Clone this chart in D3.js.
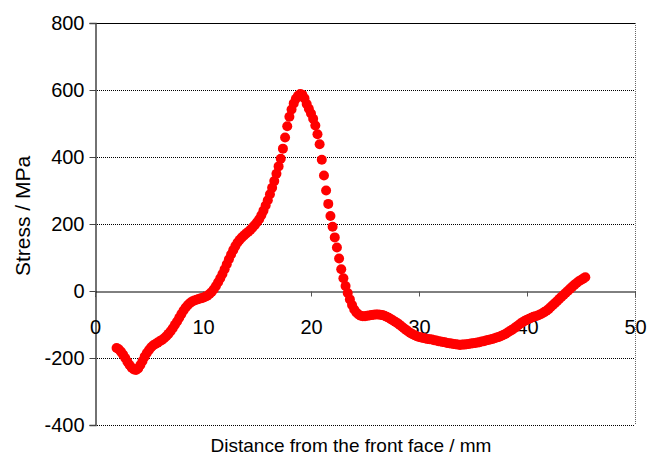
<!DOCTYPE html>
<html>
<head>
	<title>Stress profile</title>
	<script src="https://d3js.org/d3.v7.min.js" charset="utf-8"></script>
	<style>
		body { margin: 0; background: #fff; }
		text { font-family: "Liberation Sans", Arial, sans-serif; }
	</style>
</head>
<body>
	<svg width="648" height="456"></svg>
	<script>
		// distance from the front face (mm) and measured stress (MPa)
		const distance = [
			2.0, 2.2, 2.4, 2.6, 2.8, 3.0, 3.2, 3.4, 3.6, 3.8, 4.0, 4.2, 4.4, 4.6, 4.8, 5.0, 5.2, 5.4, 5.6, 5.8,
			6.0, 6.2, 6.4, 6.6, 6.8, 7.0, 7.2, 7.4, 7.6, 7.8, 8.0, 8.2, 8.4, 8.6, 8.8, 9.0, 9.2, 9.4, 9.6, 9.8,
			10.0, 10.2, 10.4, 10.6, 10.8, 11.0, 11.2, 11.4, 11.6, 11.8, 12.0, 12.2, 12.4, 12.6, 12.8, 13.0, 13.2, 13.4, 13.6, 13.8,
			14.0, 14.2, 14.4, 14.6, 14.8, 15.0, 15.2, 15.4, 15.6, 15.8, 16.0, 16.2, 16.4, 16.6, 16.8, 17.0, 17.2, 17.4, 17.6, 17.8,
			18.0, 18.2, 18.4, 18.6, 18.8, 19.0, 19.2, 19.4, 19.6, 19.8, 20.0, 20.2, 20.4, 20.6, 20.8, 21.0, 21.2, 21.4, 21.6, 21.8,
			22.0, 22.2, 22.4, 22.6, 22.8, 23.0, 23.2, 23.4, 23.6, 23.8, 24.0, 24.2, 24.4, 24.6, 24.8, 25.0, 25.2, 25.4, 25.6, 25.8,
			26.0, 26.2, 26.4, 26.6, 26.8, 27.0, 27.2, 27.4, 27.6, 27.8, 28.0, 28.2, 28.4, 28.6, 28.8, 29.0, 29.2, 29.4, 29.6, 29.8,
			30.0, 30.2, 30.4, 30.6, 30.8, 31.0, 31.2, 31.4, 31.6, 31.8, 32.0, 32.2, 32.4, 32.6, 32.8, 33.0, 33.2, 33.4, 33.6, 33.8,
			34.0, 34.2, 34.4, 34.6, 34.8, 35.0, 35.2, 35.4, 35.6, 35.8, 36.0, 36.2, 36.4, 36.6, 36.8, 37.0, 37.2, 37.4, 37.6, 37.8,
			38.0, 38.2, 38.4, 38.6, 38.8, 39.0, 39.2, 39.4, 39.6, 39.8, 40.0, 40.2, 40.4, 40.6, 40.8, 41.0, 41.2, 41.4, 41.6, 41.8,
			42.0, 42.2, 42.4, 42.6, 42.8, 43.0, 43.2, 43.4, 43.6, 43.8, 44.0, 44.2, 44.4, 44.6, 44.8, 45.0, 45.2, 45.4
		];
		const stress = [
			-170, -174, -181, -190, -200, -211, -221, -229, -234, -236, -231, -221, -209, -196, -185, -176, -168, -162, -158, -154,
			-150, -146, -141, -135, -128, -120, -111, -101, -91, -80, -69, -58, -49, -42, -36, -31, -28, -26, -24, -22,
			-20, -17, -14, -9, -3, 5, 15, 26, 38, 51, 65, 80, 95, 109, 122, 134, 145, 153, 160, 166,
			172, 177, 183, 190, 197, 205, 214, 226, 240, 255, 271, 289, 308, 328, 350, 372, 395, 425, 458, 492,
			520, 542, 560, 574, 583, 588, 586, 575, 558, 544, 530, 514, 494, 468, 438, 392, 345, 300, 260, 224,
			192, 160, 130, 97, 65, 38, 15, -6, -25, -42, -55, -64, -70, -74, -75, -75, -74, -73, -72, -71,
			-70, -70, -71, -72, -74, -77, -80, -84, -88, -92, -96, -101, -106, -111, -116, -121, -125, -129, -132, -135,
			-137, -139, -140, -142, -143, -144, -145, -147, -148, -150, -151, -152, -153, -155, -156, -157, -158, -159, -160, -161,
			-160, -160, -159, -158, -157, -156, -155, -154, -153, -151, -150, -148, -146, -145, -143, -141, -139, -137, -134, -131,
			-128, -124, -120, -116, -112, -107, -102, -97, -93, -89, -86, -83, -80, -77, -75, -73, -70, -67, -63, -59,
			-54, -48, -42, -36, -30, -23, -17, -11, -5, 1, 7, 13, 19, 24, 29, 33, 37, 41
		];
		const xTicks = [0, 10, 20, 30, 40, 50];
		const yTicks = [-400, -200, 0, 200, 400, 600, 800];

		const data = distance.map((d, i) => ({ x: d, y: stress[i] }));

		const plotLeft = 95, plotRight = 635, plotTop = 23, plotBottom = 425;

		const svg = d3.select('svg');

		const x = d3.scaleLinear().domain([0, 50]).range([plotLeft, plotRight]);
		const y = d3.scaleLinear().domain([-400, 800]).range([plotBottom, plotTop]);

		// plain hyphen for negatives, like the original
		const fmt = d => String(d);

		// dotted grid lines
		svg.append('g')
			.selectAll('line')
			.data(yTicks.filter(t => t !== 0 && t !== 800))
			.enter()
			.append('line')
			.attr('x1', plotLeft).attr('x2', plotRight)
			.attr('y1', d => y(d) + 0.5).attr('y2', d => y(d) + 0.5)
			.attr('stroke', '#000')
			.attr('stroke-dasharray', '1,1');

		// top border (solid) and right border (dotted)
		svg.append('line')
			.attr('x1', plotLeft).attr('x2', plotRight)
			.attr('y1', y(800) + 0.5).attr('y2', y(800) + 0.5)
			.attr('stroke', '#000');
		svg.append('line')
			.attr('x1', plotRight + 0.5).attr('x2', plotRight + 0.5)
			.attr('y1', plotTop).attr('y2', plotBottom)
			.attr('stroke', '#666')
			.attr('stroke-dasharray', '1,1');

		// y axis
		const yAxis = svg.append('g')
			.attr('transform', `translate(${plotLeft + 0.5},0)`)
			.call(d3.axisLeft(y).tickValues(yTicks).tickSize(6).tickPadding(5).tickFormat(fmt));
		yAxis.select('.domain').attr('stroke', '#444').attr('stroke-width', 1.5);
		yAxis.selectAll('.tick line').attr('stroke', '#444');
		yAxis.selectAll('text').attr('font-size', 20).attr('fill', '#000');

		// x axis on the zero line
		const xAxis = svg.append('g')
			.attr('transform', `translate(0,${y(0) + 0.5})`)
			.call(d3.axisBottom(x).tickValues(xTicks).tickSize(5).tickFormat(fmt));
		xAxis.select('.domain').attr('stroke', '#000');
		xAxis.selectAll('.tick line').attr('stroke', '#555');
		xAxis.selectAll('text')
			.attr('font-size', 20)
			.attr('fill', '#000')
			.attr('y', 42)
			.attr('dy', 0);

		// data points
		svg.append('g')
			.selectAll('circle')
			.data(data)
			.enter()
			.append('circle')
			.attr('cx', d => x(d.x))
			.attr('cy', d => y(d.y))
			.attr('r', 5)
			.style('fill', '#ff0000');

		// axis titles
		svg.append('text')
			.attr('x', 351)
			.attr('y', 452)
			.attr('text-anchor', 'middle')
			.attr('font-size', 19)
			.text('Distance from the front face / mm');

		svg.append('text')
			.attr('transform', `translate(30,216) rotate(-90)`)
			.attr('text-anchor', 'middle')
			.attr('font-size', 21)
			.text('Stress / MPa');
	</script>
</body>
</html>
